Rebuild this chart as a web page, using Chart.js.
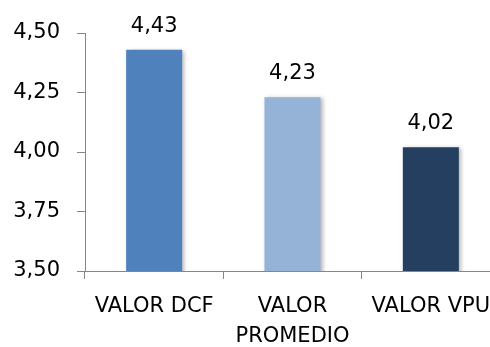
<!DOCTYPE html>
<html>
<head>
<meta charset="utf-8">
<script src="https://cdn.jsdelivr.net/npm/chart.js@4/dist/chart.umd.min.js"></script>
<style>
  html, body { margin: 0; padding: 0; background: #fff; overflow: hidden; }
  #wrap { position: relative; width: 510px; height: 347px; }
</style>
</head>
<body>
<div id="wrap"><canvas id="c"></canvas></div>
<script>
// Chart data
const categories = ['VALOR DCF', ['VALOR', 'PROMEDIO'], 'VALOR VPU'];
const values = [4.43, 4.23, 4.02];
const yMin = 3.5;
const yMax = 4.5;
const yStep = 0.25;

// Styling
const barColors = ['#4F81BD', '#95B3D7', '#243F60'];
const axisColor = '#868686';
const FONT = 'DejaVu Sans';

const fmt = v => v.toFixed(2).replace('.', ',');

// Soft drop shadow behind the bars
const barShadow = {
  id: 'barShadow',
  beforeDatasetsDraw(chart) {
    const ctx = chart.ctx;
    ctx.save();
    ctx.shadowColor = 'rgba(0,0,0,0.28)';
    ctx.shadowBlur = 4;
    ctx.shadowOffsetX = 2;
    ctx.shadowOffsetY = 1;
  },
  afterDatasetsDraw(chart) {
    chart.ctx.restore();
  }
};

// Value labels above each bar
const valueLabels = {
  id: 'valueLabels',
  afterDatasetsDraw(chart) {
    const ctx = chart.ctx;
    const meta = chart.getDatasetMeta(0);
    ctx.save();
    ctx.font = '21px "' + FONT + '"';
    ctx.fillStyle = '#000';
    ctx.textAlign = 'center';
    ctx.textBaseline = 'alphabetic';
    meta.data.forEach((bar, i) => {
      const y = Math.max(bar.y - 18, 32);
      ctx.fillText(fmt(chart.data.datasets[0].data[i]), bar.x, y);
    });
    ctx.restore();
  }
};

new Chart(document.getElementById('c'), {
  type: 'bar',
  data: {
    labels: categories,
    datasets: [{
      data: values,
      backgroundColor: barColors,
      borderWidth: 0,
      barPercentage: 0.405,
      categoryPercentage: 1
    }]
  },
  options: {
    responsive: true,
    maintainAspectRatio: false,
    animation: false,
    events: [],
    layout: { padding: { top: 33, right: 10, bottom: 0, left: 0 } },
    plugins: {
      legend: { display: false },
      tooltip: { enabled: false }
    },
    scales: {
      x: {
        grid: {
          display: true,
          drawOnChartArea: false,
          drawTicks: true,
          tickLength: 8,
          color: axisColor,
          offset: true
        },
        border: { display: true, color: axisColor, width: 1 },
        ticks: {
          color: '#000',
          font: { family: FONT, size: 21, lineHeight: 1.42 },
          padding: 13,
          maxRotation: 0,
          minRotation: 0,
          autoSkip: false
        },
        afterFit(scale) { scale.height = 76; }
      },
      y: {
        min: yMin,
        max: yMax,
        grid: {
          display: true,
          drawOnChartArea: false,
          drawTicks: true,
          tickLength: 8,
          color: axisColor
        },
        border: { display: true, color: axisColor, width: 1 },
        ticks: {
          stepSize: yStep,
          color: '#000',
          font: { family: FONT, size: 21 },
          padding: 17,
          callback: v => fmt(v)
        },
        afterFit(scale) { scale.width = 85; }
      }
    }
  },
  plugins: [barShadow, valueLabels]
});
</script>
</body>
</html>
